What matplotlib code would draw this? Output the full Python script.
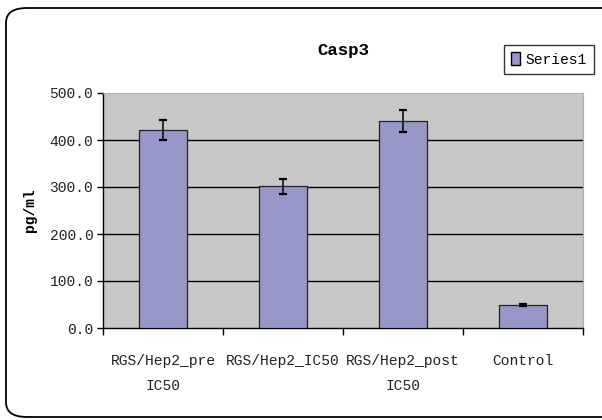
import matplotlib
matplotlib.use("Agg")
import matplotlib.pyplot as plt
import numpy as np
from matplotlib.patches import FancyBboxPatch, Patch

categories = ["RGS/Hep2_pre\nIC50", "RGS/Hep2_IC50", "RGS/Hep2_post\nIC50", "Control"]
values = [421, 302, 441, 49]
errors = [21, 16, 23, 2]
yticks = [0, 100, 200, 300, 400, 500]

mono = "Liberation Mono"
bar_color = "#9696C8"
fs = 10.5

fig = plt.figure(figsize=(6.02, 4.2), dpi=100)
fig.patch.set_facecolor("white")

# outer rounded frame
frame = FancyBboxPatch((6/602, 3/420), 620/602, 409/420,
                       boxstyle="round,pad=0,rounding_size=0.035",
                       transform=fig.transFigure, fill=False, edgecolor="black",
                       linewidth=1.3, clip_on=False)
fig.patches.append(frame)

ax = fig.add_axes([103/602, 1-328/420, 480/602, 235/420])
ax.set_facecolor("#C8C8C8")
x = np.arange(len(categories))
ax.bar(x, values, width=0.4, color=bar_color, edgecolor="#222222", linewidth=0.9, zorder=3)
ax.errorbar(x, values, yerr=errors, fmt="none", ecolor="black", elinewidth=1.1,
            capsize=3, capthick=1.6, zorder=4)

ax.set_xlim(-0.5, len(categories)-0.5)
ax.set_ylim(0, 500)
ax.set_yticks(yticks)
ax.set_yticklabels([f"{v:.1f}" for v in yticks], fontfamily=mono, fontsize=fs, color="#222222")
for v in yticks[1:-1]:
    ax.axhline(v, color="black", linewidth=1.0, zorder=2)

ax.set_xticks(np.arange(len(categories)+1) - 0.5)
ax.set_xticklabels([])
ax.tick_params(axis="x", direction="out", length=5, width=1)
ax.tick_params(axis="y", direction="out", length=4, width=1, pad=3)
for i, c in enumerate(categories):
    ax.text(i, -0.11, c, transform=ax.get_xaxis_transform(), ha="center", va="top",
            fontfamily=mono, fontsize=fs, linespacing=2.0, color="#222222")

for s in ["top", "right"]:
    ax.spines[s].set_color("#B0B0B0")
for s in ["left", "bottom"]:
    ax.spines[s].set_color("black")
    ax.spines[s].set_linewidth(1.0)

ax.set_ylabel("pg/ml", fontfamily=mono, fontsize=fs, fontweight="bold")
ax.yaxis.set_label_coords(-0.138, 0.5)

fig.text(343/602, 1-51/420, "Casp3", ha="center", va="center", fontfamily=mono,
         fontsize=12.5, fontweight="bold")

leg = fig.legend(handles=[Patch(facecolor=bar_color, edgecolor="black", label="Series1")],
                 loc="center", bbox_to_anchor=(549/602, 1-59.5/420), frameon=True,
                 prop={"family": mono, "size": fs}, handlelength=0.6, handleheight=1.0,
                 handletextpad=0.35, borderpad=0.5, fancybox=False, borderaxespad=0)
leg.get_frame().set_edgecolor("black")
leg.get_frame().set_linewidth(1.0)

fig.savefig("out.png", dpi=100)
